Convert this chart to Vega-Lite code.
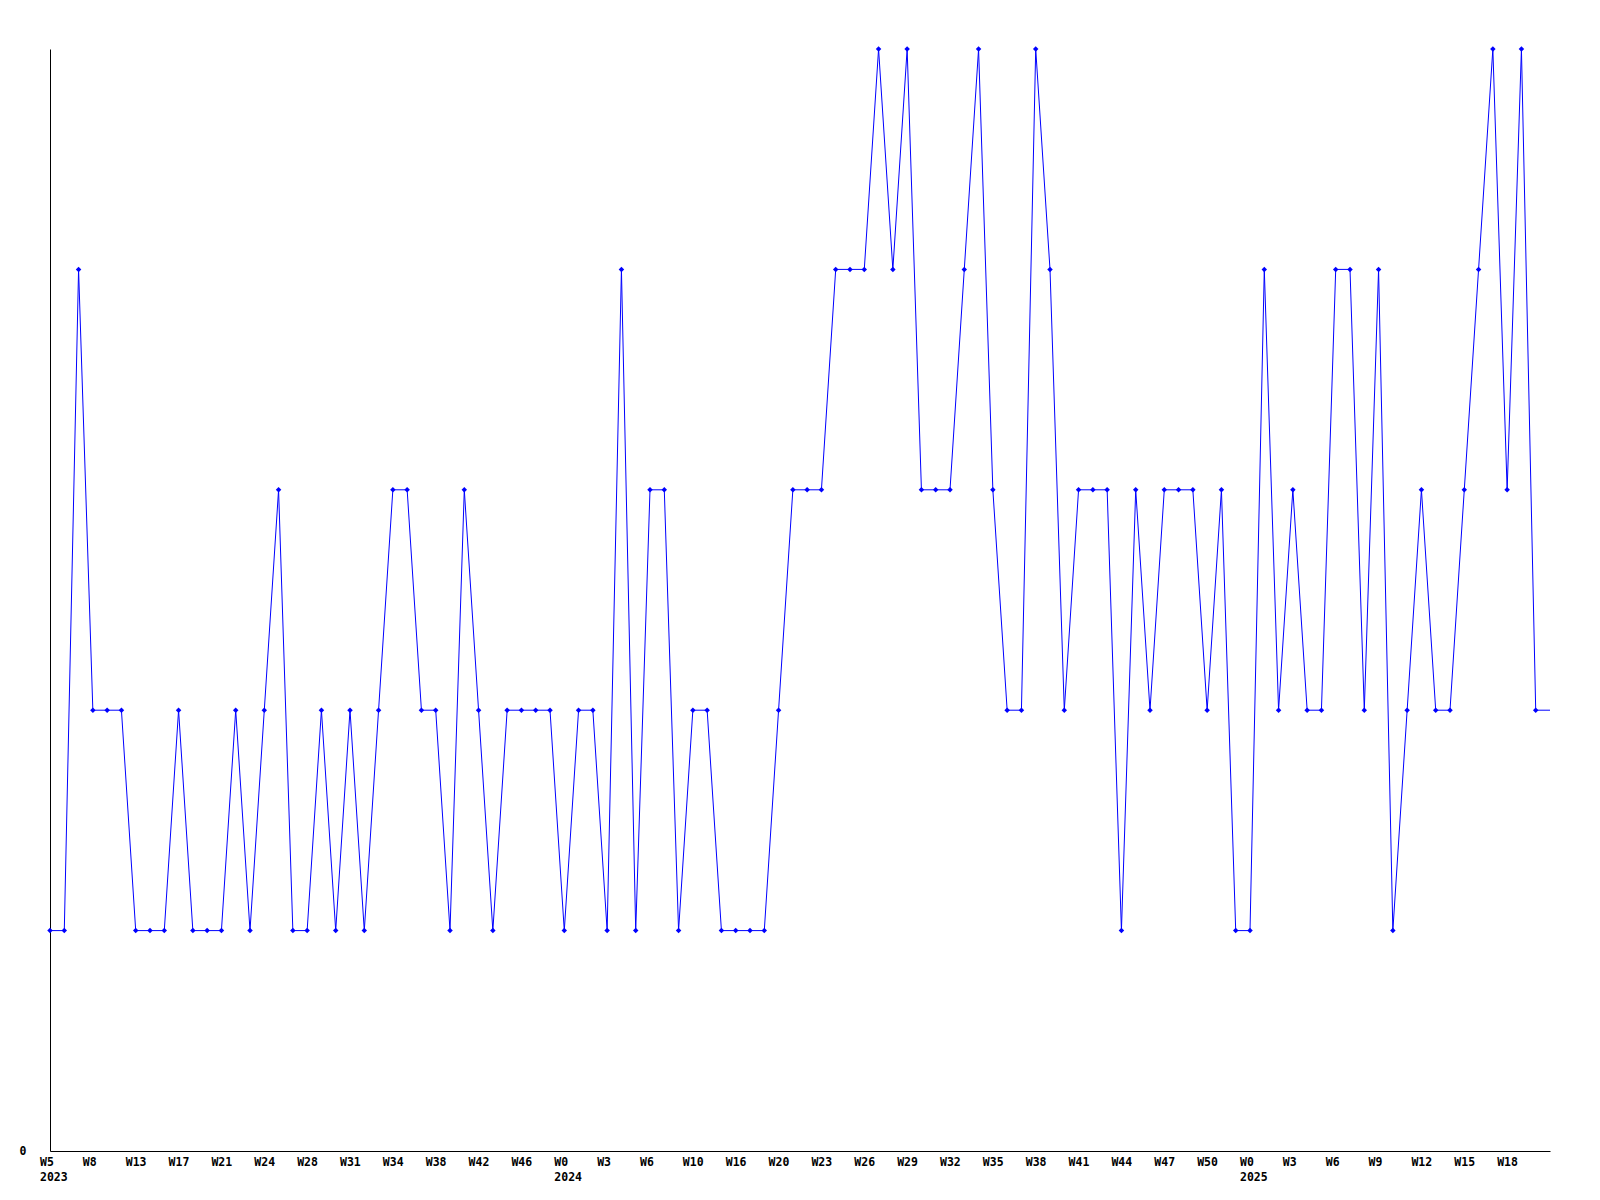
{
  "$schema": "https://vega.github.io/schema/vega-lite/v6.json",
  "autosize": "none",
  "width": 1500,
  "height": 1102,
  "padding": {"left": 50, "top": 49, "right": 50, "bottom": 49},
  "background": "white",
  "config": {"view": {"stroke": null}},
  "data": {"values": [
    {"i":0,"v":1},{"i":1,"v":1},{"i":2,"v":4},{"i":3,"v":2},{"i":4,"v":2},{"i":5,"v":2},{"i":6,"v":1},{"i":7,"v":1},{"i":8,"v":1},{"i":9,"v":2},
    {"i":10,"v":1},{"i":11,"v":1},{"i":12,"v":1},{"i":13,"v":2},{"i":14,"v":1},{"i":15,"v":2},{"i":16,"v":3},{"i":17,"v":1},{"i":18,"v":1},{"i":19,"v":2},
    {"i":20,"v":1},{"i":21,"v":2},{"i":22,"v":1},{"i":23,"v":2},{"i":24,"v":3},{"i":25,"v":3},{"i":26,"v":2},{"i":27,"v":2},{"i":28,"v":1},{"i":29,"v":3},
    {"i":30,"v":2},{"i":31,"v":1},{"i":32,"v":2},{"i":33,"v":2},{"i":34,"v":2},{"i":35,"v":2},{"i":36,"v":1},{"i":37,"v":2},{"i":38,"v":2},{"i":39,"v":1},
    {"i":40,"v":4},{"i":41,"v":1},{"i":42,"v":3},{"i":43,"v":3},{"i":44,"v":1},{"i":45,"v":2},{"i":46,"v":2},{"i":47,"v":1},{"i":48,"v":1},{"i":49,"v":1},
    {"i":50,"v":1},{"i":51,"v":2},{"i":52,"v":3},{"i":53,"v":3},{"i":54,"v":3},{"i":55,"v":4},{"i":56,"v":4},{"i":57,"v":4},{"i":58,"v":5},{"i":59,"v":4},
    {"i":60,"v":5},{"i":61,"v":3},{"i":62,"v":3},{"i":63,"v":3},{"i":64,"v":4},{"i":65,"v":5},{"i":66,"v":3},{"i":67,"v":2},{"i":68,"v":2},{"i":69,"v":5},
    {"i":70,"v":4},{"i":71,"v":2},{"i":72,"v":3},{"i":73,"v":3},{"i":74,"v":3},{"i":75,"v":1},{"i":76,"v":3},{"i":77,"v":2},{"i":78,"v":3},{"i":79,"v":3},
    {"i":80,"v":3},{"i":81,"v":2},{"i":82,"v":3},{"i":83,"v":1},{"i":84,"v":1},{"i":85,"v":4},{"i":86,"v":2},{"i":87,"v":3},{"i":88,"v":2},{"i":89,"v":2},
    {"i":90,"v":4},{"i":91,"v":4},{"i":92,"v":2},{"i":93,"v":4},{"i":94,"v":1},{"i":95,"v":2},{"i":96,"v":3},{"i":97,"v":2},{"i":98,"v":2},{"i":99,"v":3},
    {"i":100,"v":4},{"i":101,"v":5},{"i":102,"v":3},{"i":103,"v":5},{"i":104,"v":2},{"i":105,"v":2}
  ]},
  "encoding": {
    "x": {
      "field": "i", "type": "quantitative",
      "scale": {"domain": [0, 105], "nice": false, "zero": false},
      "axis": {
        "title": null, "grid": false, "ticks": false, "tickSize": 0,
        "domainColor": "black", "domainWidth": 1,
        "values": [0,3,6,9,12,15,18,21,24,27,30,33,36,39,42,45,48,51,54,57,60,63,66,69,72,75,78,81,84,87,90,93,96,99,102],
        "labelExpr": "[['W5','2023'],'W8','W13','W17','W21','W24','W28','W31','W34','W38','W42','W46',['W0','2024'],'W3','W6','W10','W16','W20','W23','W26','W29','W32','W35','W38','W41','W44','W47','W50',['W0','2025'],'W3','W6','W9','W12','W15','W18'][round(datum.value/3)]",
        "labelAlign": "left", "labelOffset": -10.5, "labelBaseline": "top", "labelPadding": 5,
        "labelFont": "DejaVu Sans Mono", "labelFontWeight": "bold", "labelFontSize": 11.5,
        "labelColor": "black", "labelLineHeight": 15.5, "labelOverlap": false, "labelFlush": false
      }
    },
    "y": {
      "field": "v", "type": "quantitative",
      "scale": {"domain": [0, 5], "nice": false},
      "axis": {
        "title": null, "grid": false, "ticks": false, "tickSize": 0,
        "domainColor": "black", "domainWidth": 1,
        "values": [0], "labelPadding": 24, "labelBaseline": "middle",
        "labelFont": "DejaVu Sans Mono", "labelFontWeight": "bold", "labelFontSize": 11.5,
        "labelColor": "black"
      }
    }
  },
  "layer": [
    {"mark": {"type": "line", "color": "#0000ff", "strokeWidth": 1, "interpolate": "linear"}},
    {
      "transform": [{"filter": "datum.i < 105"}],
      "mark": {"type": "point", "shape": "diamond", "filled": true, "color": "#0000ff", "size": 30, "opacity": 1}
    }
  ]
}
